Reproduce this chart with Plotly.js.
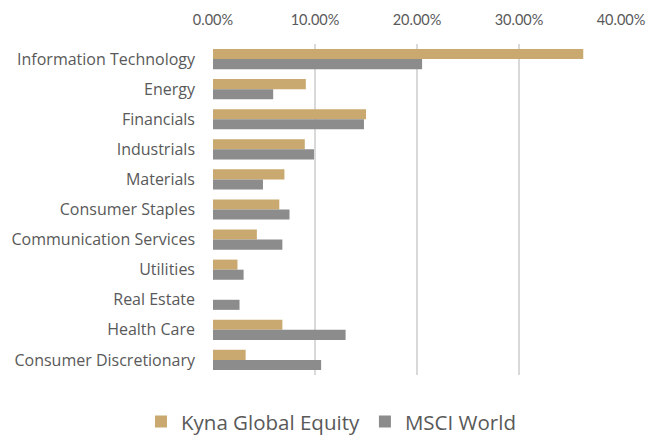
<!DOCTYPE html>
<html>
<head>
<meta charset="utf-8">
<script src="https://cdn.plot.ly/plotly-3.0.1.min.js"></script>
<style>html,body{margin:0;padding:0;background:#fff;}#chart{width:649px;height:437px;}</style>
</head>
<body>
<div id="chart"></div>
<script>
const categories = ["Information Technology","Energy","Financials","Industrials","Materials","Consumer Staples","Communication Services","Utilities","Real Estate","Health Care","Consumer Discretionary"];
const kynaValues = [36.3, 9.1, 15.0, 9.0, 7.0, 6.5, 4.3, 2.4, 0, 6.8, 3.2];
const msciValues = [20.5, 5.9, 14.8, 9.9, 4.9, 7.5, 6.8, 3.0, 2.6, 13.0, 10.6];
const seriesNames = ["Kyna Global Equity", "MSCI World"];
const tickValues = [0, 10, 20, 30, 40];
const tickLabels = ["0.00%", "10.00%", "20.00%", "30.00%", "40.00%"];

const data = [
  {type:"bar", orientation:"h", name:seriesNames[0], y:categories, x:kynaValues, marker:{color:"#C9A96F"}},
  {type:"bar", orientation:"h", name:seriesNames[1], y:categories, x:msciValues, marker:{color:"#8C8C8C"}}
];
const layout = {
  width:649, height:437,
  margin:{l:213, r:28, t:44, b:62},
  paper_bgcolor:"#fff", plot_bgcolor:"#fff",
  barmode:"group", bargap:0.33, bargroupgap:0,
  font:{family:"'Open Sans', sans-serif", color:"#595959", size:14},
  xaxis:{side:"top", range:[0,40], tickvals:tickValues, ticktext:tickLabels,
         showgrid:true, gridcolor:"#D9D9D9", gridwidth:1.5, zeroline:false,
         showline:false, ticks:"", ticklabelstandoff:15,
         tickfont:{family:"Lato, sans-serif", size:14.5, color:"#595959"}, fixedrange:true},
  yaxis:{autorange:"reversed", showgrid:false, zeroline:false, showline:false,
         ticks:"", ticklabelstandoff:17,
         tickfont:{family:"'Open Sans', sans-serif", size:16, color:"#595959"}, fixedrange:true},
  showlegend:true,
  legend:{orientation:"h", xref:"container", yref:"container", x:0.51, xanchor:"center",
          y:0.035, yanchor:"middle", font:{family:"'Open Sans', sans-serif", size:20.5, color:"#595959"},
          itemwidth:30, traceorder:"normal"}
};
Plotly.newPlot("chart", data, layout, {displayModeBar:false, staticPlot:true});
</script>
</body>
</html>
